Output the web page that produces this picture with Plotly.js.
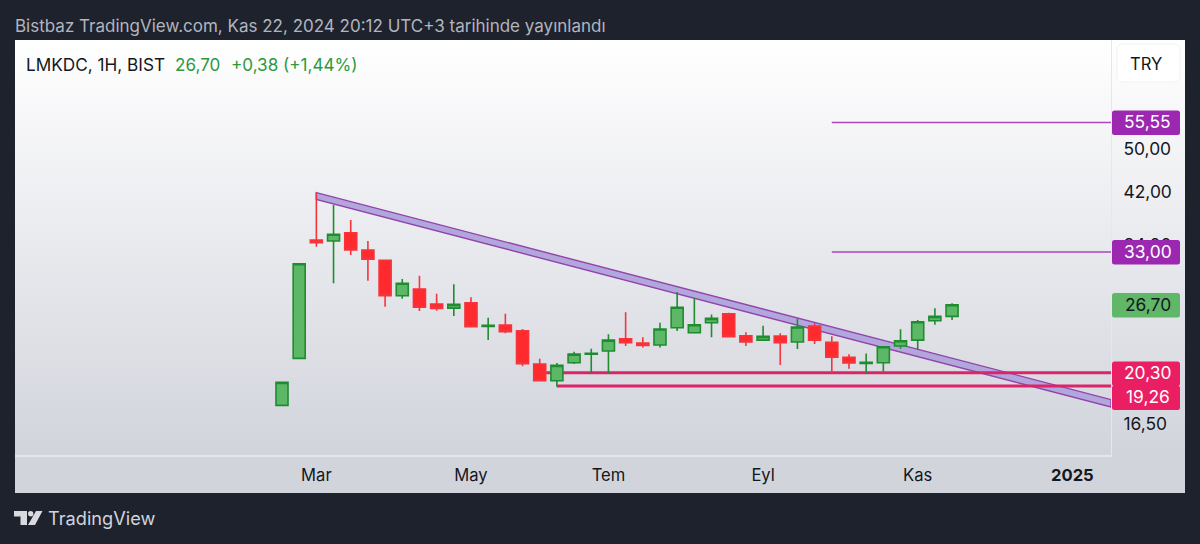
<!DOCTYPE html>
<html><head><meta charset="utf-8">
<script src="https://cdn.plot.ly/plotly-3.0.1.min.js"></script>
<style>
html,body{margin:0;padding:0;width:1200px;height:544px;overflow:hidden;background:#1e222d}
#panel{position:absolute;left:15px;top:40px;width:1170px;height:453px;background:linear-gradient(180deg,#ffffff 0px,#d2d4dc 415px,#d2d4dc 453px)}
#chart{position:absolute;left:0;top:0;width:1200px;height:544px}
</style></head><body>
<div id="panel"></div><div id="chart"></div>
<script>
const opens =[17.81,21.52,34.63,34.49,35.66,33.27,31.92,27.68,28.44,26.77,26.34,26.91,24.47,24.60,24.04,21.03,19.66,21.14,21.89,22.16,23.28,22.89,22.70,24.34,23.85,24.83,25.75,23.57,23.16,23.54,22.98,24.50,22.95,21.61,21.09,21.14,22.61,23.16,25.03,25.48];
const highs =[19.54,31.48,41.89,39.87,37.53,34.49,31.92,29.60,30.00,27.90,28.98,27.50,25.33,25.75,24.21,21.48,21.12,22.10,22.36,23.70,25.89,23.42,24.83,28.10,27.39,25.68,25.85,23.89,24.53,23.80,25.23,24.77,23.51,21.87,21.95,22.55,24.18,25.10,26.31,26.85];
const lows  =[17.81,21.52,33.71,29.10,32.60,29.40,26.48,27.35,26.03,26.06,25.51,24.44,23.16,23.80,20.84,19.64,19.20,21.03,20.26,20.26,22.61,22.49,22.49,24.02,23.85,23.42,23.47,22.61,23.10,20.95,22.34,22.79,20.31,20.64,20.26,20.39,22.36,22.25,24.63,25.10];
const closes=[19.54,31.48,34.26,35.44,33.27,32.05,27.68,29.10,26.42,26.31,26.74,24.44,24.57,23.95,21.06,19.66,20.92,21.89,21.95,23.16,22.91,22.67,24.21,26.42,24.63,25.27,23.47,22.98,23.51,22.91,24.41,23.16,21.61,21.12,21.18,22.55,23.10,24.93,25.48,26.70];
const weeks = opens.map((_,i)=>i);

const xTickVals=[2,11,19,28,37,46];
const xTickText=['Mar','May','Tem','Eyl','Kas','<b>2025</b>'];
const yTickVals=[16.5,34,42,50];
const yTickText=['16,50','34,00','42,00','50,00'];

const channelX=[2,48.25,48.25,2];
const channelY=[41.89,18.23,17.69,40.76];
const purpleLevels=[55.55,33.00];
const pinkLevels=[20.30,19.26];
const pinkStarts=[15,16];
const purpleStart=32;

const W=1200,H=544,L=15,R=1111,T=40,B=455;
const px=x=>(x-L)/(R-L), py=y=>(B-y)/(B-T);
const pathPx=pts=>'M'+pts.map(p=>px(p[0])+','+py(p[1])).join('L')+'Z';
function rr(x0,y0,x1,y1,r){
  const a=(x,y)=>px(x)+','+py(y);
  return 'M'+a(x0+r,y0)+'L'+a(x1-r,y0)+'Q'+a(x1,y0)+' '+a(x1,y0+r)+'L'+a(x1,y1-r)+'Q'+a(x1,y1)+' '+a(x1-r,y1)+'L'+a(x0+r,y1)+'Q'+a(x0,y1)+' '+a(x0,y1-r)+'L'+a(x0,y0+r)+'Q'+a(x0,y0)+' '+a(x0+r,y0)+'Z';
}
const FONT='Inter, "Noto Sans", sans-serif';
function txt(text,x,y,size,color,anchor){
  return {text,x:px(anchor?x:x-2),y:py(y),xref:'paper',yref:'paper',xanchor:anchor||'left',yanchor:'middle',showarrow:false,font:{family:FONT,size,color},align:anchor||'left'};
}
const shapes=[];
shapes.push({type:'path',layer:'below',xref:'x',yref:'y',
  path:'M'+channelX.map((x,i)=>x+','+channelY[i]).join('L')+'Z',
  fillcolor:'#b1a7dd',line:{color:'#9343ab',width:1.4}});
purpleLevels.forEach(v=>shapes.push({type:'line',layer:'below',xref:'x',yref:'y',x0:purpleStart,x1:48.25,y0:v,y1:v,line:{color:'#ad45bd',width:1.4}}));
pinkLevels.forEach((v,i)=>shapes.push({type:'line',layer:'below',xref:'x',yref:'y',x0:pinkStarts[i],x1:48.25,y0:v,y1:v,line:{color:'#dc2569',width:3}}));
const boxes=[[1112,110.5,1180,135,'#9c27b0'],[1112,240,1180,264.5,'#9c27b0'],[1112,293,1180,317.5,'#61b768'],[1112,361.5,1180,386,'#e91e63'],[1112,385.5,1180,410,'#e91e63']];
boxes.forEach(b=>shapes.push({type:'path',layer:'above',xref:'paper',yref:'paper',path:rr(b[0],b[1],b[2],b[3],2.5),fillcolor:b[4],line:{width:0}}));
shapes.push({type:'path',layer:'above',xref:'paper',yref:'paper',path:rr(1117,44,1180,82,6),fillcolor:'#ffffff',line:{color:'#f0f1f4',width:1}});
const logo=[[[14,511],[27,511],[27,525],[20.5,525],[20.5,516.5],[14,516.5]],[[36,511],[42.5,511],[35,525],[28,525]]];
logo.forEach(p=>shapes.push({type:'path',layer:'above',xref:'paper',yref:'paper',path:pathPx(p),fillcolor:'#d9dae0',line:{width:0}}));
shapes.push({type:'circle',layer:'above',xref:'paper',yref:'paper',x0:px(28),x1:px(33.4),y0:py(511),y1:py(516.4),fillcolor:'#d9dae0',line:{width:0}});

const annotations=[
  txt('Bistbaz TradingView.com, Kas 22, 2024 20:12 UTC+3 tarihinde yayınlandı',15,26,17,'#b2b5be'),
  txt('LMKDC, 1H, BIST',26,64.5,17.2,'#131722'),
  txt('26,70',175,64.5,17.1,'#2a9a3c'),
  txt('+0,38 (+1,44%)',231,64.5,17.1,'#2a9a3c'),
  txt('TRY',1146,64,16.6,'#131722','center'),
  txt('TradingView',48,518,18.2,'#d1d4dc'),
  txt('55,55',1147.5,121.7,17.4,'#ffffff','center'),
  txt('33,00',1147.5,251.3,17.4,'#ffffff','center'),
  txt('26,70',1147.5,304.3,17.4,'#131722','center'),
  txt('20,30',1147.5,372.3,17.4,'#ffffff','center'),
  txt('19,26',1147.5,396.8,17.4,'#ffffff','center')
];

Plotly.newPlot('chart',[{
  type:'candlestick',x:weeks,open:opens,high:highs,low:lows,close:closes,
  increasing:{line:{color:'#1f8c30',width:1.6},fillcolor:'#5cb866'},
  decreasing:{line:{color:'#f5343c',width:1.6},fillcolor:'#ff2a2e'},
  whiskerwidth:0,hoverinfo:'skip',showlegend:false
}],{
  width:W,height:H,margin:{l:L,r:W-R,t:T,b:H-B,pad:0},
  paper_bgcolor:'rgba(0,0,0,0)',plot_bgcolor:'rgba(0,0,0,0)',
  boxgap:0.3,boxgroupgap:0,showlegend:false,dragmode:false,
  xaxis:{type:'linear',range:[-15.54,48.25],rangeslider:{visible:false},showgrid:false,zeroline:false,
    tickmode:'array',tickvals:xTickVals,ticktext:xTickText,ticks:'',ticklabelstandoff:5,tickangle:0,
    tickfont:{family:FONT,size:16.6,color:'#131722'},showline:true,linecolor:'#e6e7ec',linewidth:1.5},
  yaxis:{type:'log',side:'right',range:[Math.log10(14.59),Math.log10(77.4)],showgrid:false,zeroline:false,
    tickmode:'array',tickvals:yTickVals,ticktext:yTickText,ticks:'',ticklabelstandoff:8,
    tickfont:{family:FONT,size:17.4,color:'#131722'},showline:true,linecolor:'#e6e7ec',linewidth:1},
  shapes,annotations
},{staticPlot:true,displayModeBar:false});
</script></body></html>
